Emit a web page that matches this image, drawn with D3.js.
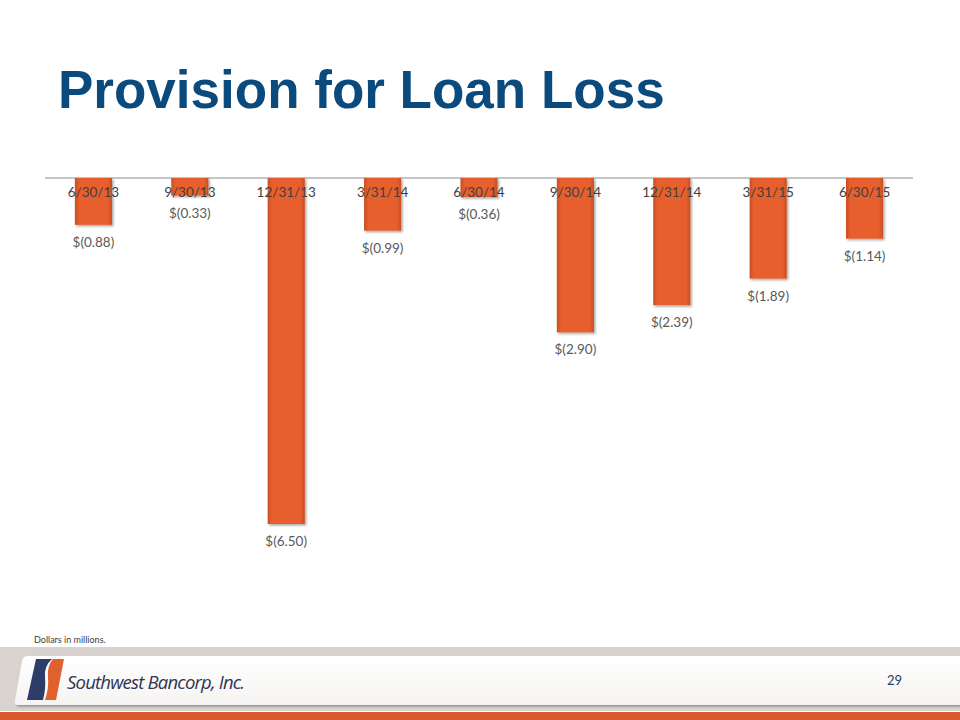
<!DOCTYPE html>
<html><head><meta charset="utf-8">
<script src="https://cdn.jsdelivr.net/npm/d3@7"></script>
<style>html,body{margin:0;padding:0;background:#fff;}svg{display:block;}</style>
</head><body>
<svg id="c" width="960" height="720"></svg>
<script>
const categories = ["6/30/13","9/30/13","12/31/13","3/31/14","6/30/14","9/30/14","12/31/14","3/31/15","6/30/15"];
const values = [-0.88,-0.33,-6.50,-0.99,-0.36,-2.90,-2.39,-1.89,-1.14];
const title = "Provision for Loan Loss";
const note = "Dollars in millions.";
const pageNum = "29";
const company = "Southwest Bancorp, Inc.";

const svg = d3.select("#c");
const defs = svg.append("defs");
const g1 = defs.append("linearGradient").attr("id","barg").attr("x1","0").attr("x2","1").attr("y1","0").attr("y2","0");
g1.append("stop").attr("offset","0").attr("stop-color","#c94e22");
g1.append("stop").attr("offset","0.12").attr("stop-color","#e85f2e");
g1.append("stop").attr("offset","0.88").attr("stop-color","#e85f2e");
g1.append("stop").attr("offset","1").attr("stop-color","#c94e22");
const f = defs.append("filter").attr("id","sh").attr("x","-20%").attr("y","-20%").attr("width","150%").attr("height","150%");
f.append("feDropShadow").attr("dx",1.5).attr("dy",1.5).attr("stdDeviation",1.2).attr("flood-color","#000").attr("flood-opacity",0.35);

// Title
svg.append("text").attr("x",58).attr("y",108).text(title)
  .attr("font-family","Liberation Sans, Arial, sans-serif").attr("font-weight","bold")
  .attr("font-size",53).attr("fill","#0b4a7d");

const x = d3.scaleBand().domain(categories).range([45,913]).paddingInner(0.615).paddingOuter(0.31);
const y = d3.scaleLinear().domain([0,-6.5]).range([178,524]);

svg.append("line").attr("x1",45).attr("x2",913).attr("y1",y(0)).attr("y2",y(0))
  .attr("stroke","#8c8c8c").attr("stroke-width",1);

svg.append("g").selectAll("rect").data(values).join("rect")
  .attr("x",(d,i)=>x(categories[i]))
  .attr("y",y(0))
  .attr("width",x.bandwidth())
  .attr("height",d=>y(d)-y(0))
  .attr("fill","url(#barg)")
  .attr("filter","url(#sh)");

const fmt = d3.format(".2f");
svg.append("g").selectAll("text").data(values).join("text")
  .attr("x",(d,i)=>x(categories[i])+x.bandwidth()/2)
  .attr("y",d=>y(d)+22)
  .attr("text-anchor","middle")
  .attr("font-family","Lato, 'Open Sans', sans-serif").attr("font-size",13.5)
  .attr("fill","#595959")
  .text(d=>"$(" + fmt(Math.abs(d)) + ")");

const axis = d3.axisBottom(x).tickSize(0).tickPadding(0);
const ag = svg.append("g").attr("transform",`translate(0,${y(0)})`).call(axis);
ag.select(".domain").remove();
ag.selectAll("text").attr("y",19).attr("dy",0)
  .attr("font-family","Lato, 'Open Sans', sans-serif").attr("font-size",13.5)
  .attr("fill","#404040");

// Footer
svg.append("text").attr("x",34).attr("y",643).text(note)
  .attr("font-family","Lato, 'Open Sans', sans-serif").attr("font-size",9).attr("fill","#404040");
svg.append("rect").attr("x",0).attr("y",647).attr("width",960).attr("height",64).attr("fill","#d8d3cf");
const fg = defs.append("linearGradient").attr("id","pang").attr("x1","0").attr("x2","0").attr("y1","0").attr("y2","1");
fg.append("stop").attr("offset","0").attr("stop-color","#ffffff");
fg.append("stop").attr("offset","1").attr("stop-color","#f6f4f2");
svg.append("path").attr("d","M28,656 L960,656 L960,705 L18,705 Q14,705 15,700 L22,661 Q23,656 28,656 Z")
  .attr("fill","url(#pang)").attr("filter","url(#sh)");
svg.append("rect").attr("x",0).attr("y",712).attr("width",960).attr("height",8).attr("fill","#d9582b");

// logo
svg.append("path").attr("d","M36,659 L52,659 Q44,666 45,677 Q46,689 43,700 L27,700 Z").attr("fill","#2c3d69");
svg.append("path").attr("d","M53,659 L64,659 L56,700 L45,700 Q49,689 48,677 Q47,666 53,659 Z").attr("fill","#e0602e");
svg.append("text").attr("x",67).attr("y",689).text(company)
  .attr("font-family","'Open Sans', Lato, sans-serif").attr("font-style","italic")
  .attr("font-size",18.5).attr("letter-spacing",-0.8).attr("fill","#2f3553");
svg.append("text").attr("x",887).attr("y",685).text(pageNum)
  .attr("font-family","Lato, 'Open Sans', sans-serif").attr("font-size",13).attr("fill","#1f3d5c");
</script>
</body></html>
